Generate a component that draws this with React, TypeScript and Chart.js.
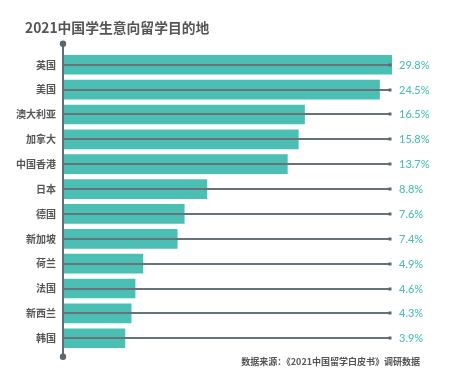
import React, { useEffect, useRef } from "react";
import { Chart, registerables } from "chart.js";

Chart.register(...registerables);

const titleText = "2021中国学生意向留学目的地";
const sourceText = "数据来源：《2021中国留学白皮书》调研数据";
const categories = ["英国", "美国", "澳大利亚", "加拿大", "中国香港", "日本", "德国", "新加坡", "荷兰", "法国", "新西兰", "韩国"];
// Percentages shown as value labels
const values = [29.8, 24.5, 16.5, 15.8, 13.7, 8.8, 7.6, 7.4, 4.9, 4.6, 4.3, 3.9];
// Bar lengths as drawn in the source (not to scale for the largest values), read in axis units
const barLengths = [21.0, 20.2, 15.4, 15.0, 14.3, 9.15, 7.7, 7.25, 5.05, 4.55, 4.3, 3.9];
const axisMax = 21;

const TEAL = "#4bbfb4";
const GRAY_LINE = "#66737a";
const TEXT = "#555555";

const overlay = {
  id: "overlay",
  afterDatasetsDraw(chart: any) {
    const { ctx, chartArea, scales } = chart;
    const x = scales.x;
    const y = scales.y;
    const left = x.getPixelForValue(0);
    const xEnd = x.getPixelForValue(axisMax) - 2;
    ctx.save();
    categories.forEach((_, i) => {
      const py = Math.round(y.getPixelForValue(i));
      ctx.strokeStyle = GRAY_LINE;
      ctx.lineWidth = 2;
      ctx.beginPath();
      ctx.moveTo(left, py);
      ctx.lineTo(xEnd, py);
      ctx.stroke();
      ctx.fillStyle = "#5c676d";
      ctx.fillRect(xEnd - 1.5, py - 1.5, 3, 3);
      ctx.fillStyle = TEAL;
      ctx.font = "500 11px Lato, 'Noto Sans', sans-serif";
      ctx.textAlign = "left";
      ctx.textBaseline = "middle";
      ctx.fillText(values[i].toFixed(1) + "%", xEnd + 9, py + 0.5);
    });
    // vertical axis with end dots
    const ax = left - 1;
    const top = chartArea.top - 8.5;
    const bottom = chartArea.bottom + 6;
    ctx.strokeStyle = "#626d73";
    ctx.lineWidth = 2;
    ctx.beginPath();
    ctx.moveTo(ax, top);
    ctx.lineTo(ax, bottom);
    ctx.stroke();
    ctx.fillStyle = "#5c676d";
    ctx.beginPath();
    ctx.arc(ax, top, 3.2, 0, Math.PI * 2);
    ctx.fill();
    ctx.beginPath();
    ctx.arc(ax, bottom, 3.2, 0, Math.PI * 2);
    ctx.fill();
    // title
    ctx.fillStyle = TEXT;
    ctx.font = "bold 13.8px 'Noto Sans CJK SC', 'Noto Sans', sans-serif";
    ctx.textAlign = "left";
    ctx.textBaseline = "middle";
    ctx.fillText(titleText, 25, 28);
    // source
    ctx.font = "bold 9px 'Noto Sans CJK SC', 'Noto Sans', sans-serif";
    ctx.textAlign = "right";
    ctx.fillText(sourceText, 420, 362);
    ctx.restore();
  },
};

export default function App() {
  const ref = useRef<HTMLCanvasElement | null>(null);
  useEffect(() => {
    if (!ref.current) return;
    const chart = new Chart(ref.current, {
      type: "bar",
      data: {
        labels: categories,
        datasets: [
          {
            data: barLengths,
            backgroundColor: TEAL,
            borderWidth: 0,
            barThickness: 19,
          },
        ],
      },
      options: {
        indexAxis: "y",
        animation: false,
        responsive: false,
        maintainAspectRatio: false,
        layout: { padding: { top: 52.3, bottom: 32.3, left: 8, right: 61 } },
        plugins: { legend: { display: false }, tooltip: { enabled: false }, title: { display: false } },
        scales: {
          x: { display: false, min: 0, max: axisMax },
          y: {
            grid: { display: false, drawTicks: false },
            border: { display: false },
            ticks: {
              padding: 8,
              color: TEXT,
              font: { size: 10, weight: "bold", family: "'Noto Sans CJK SC', sans-serif" },
            },
            afterFit: (scale: any) => {
              scale.width = 56;
            },
          },
        },
      } as any,
      plugins: [overlay],
    });
    return () => chart.destroy();
  }, []);
  return (
    <div style={{ position: "absolute", left: 0, top: 0, width: 453, height: 383, background: "#fff" }}>
      <canvas ref={ref} width={453} height={383} style={{ width: 453, height: 383 }} />
    </div>
  );
}
